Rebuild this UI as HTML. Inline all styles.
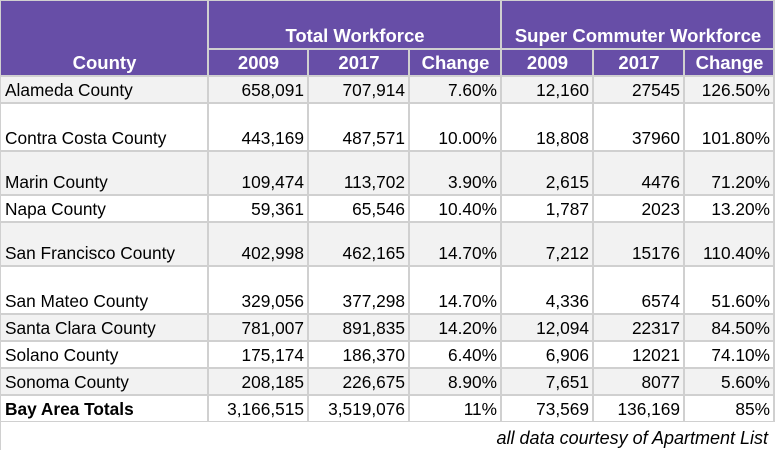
<!DOCTYPE html>
<html><head><meta charset="utf-8">
<style>
html,body{margin:0;padding:0;background:#fff;}
#t{position:relative;width:775px;height:450px;background:#fff;overflow:hidden;font-family:"Liberation Sans",Arial,sans-serif;}
.c{position:absolute;box-sizing:border-box;display:flex;align-items:flex-end;padding:0 3px 1px 4px;font-size:17.3px;color:#000;white-space:nowrap;}
.h{background:#674ea7;color:#fff;font-weight:bold;justify-content:center;font-size:18.5px;padding-bottom:1px;}
.r{justify-content:flex-end;}
.l{justify-content:flex-start;}
</style></head>
<body>
<div id="t"></div>
<script>
const counties=["Alameda County","Contra Costa County","Marin County","Napa County","San Francisco County","San Mateo County","Santa Clara County","Solano County","Sonoma County","Bay Area Totals"];
const total2009=["658,091","443,169","109,474","59,361","402,998","329,056","781,007","175,174","208,185","3,166,515"];
const total2017=["707,914","487,571","113,702","65,546","462,165","377,298","891,835","186,370","226,675","3,519,076"];
const totalChange=["7.60%","10.00%","3.90%","10.40%","14.70%","14.70%","14.20%","6.40%","8.90%","11%"];
const super2009=["12,160","18,808","2,615","1,787","7,212","4,336","12,094","6,906","7,651","73,569"];
const super2017=["27545","37960","4476","2023","15176","6574","22317","12021","8077","136,169"];
const superChange=["126.50%","101.80%","71.20%","13.20%","110.40%","51.60%","84.50%","74.10%","5.60%","85%"];

const cols=[0,208,308,409,501,593,684,775];
const rows=[76,103,151,195,222,266,314,341,368,395,422];
const T=document.getElementById('t');
const G='#d0d0d0';
function bg(x0,y0,x1,y1){
  const d=document.createElement('div');
  d.style.cssText=`position:absolute;left:${x0}px;top:${y0}px;width:${x1-x0}px;height:${y1-y0}px;background:${G}`;
  
  
  T.appendChild(d);
}
bg(0,0,775,422);
function cell(x0,y0,x1,y1,txt,cls,name,fill){
  const d=document.createElement('div');
  d.className='c '+cls;
  d.style.left=(x0+1)+'px';d.style.top=(y0+1)+'px';
  d.style.width=(x1-x0-2)+'px';d.style.height=(y1-y0-2)+'px';
  if(fill)d.style.background=fill;
  d.textContent=txt;
  
  
  T.appendChild(d);
}
cell(0,0,208,76,'County','h','county-header');
cell(208,0,501,49,'Total Workforce','h','total-workforce-header');
cell(501,0,774,49,'Super Commuter Workforce','h','super-commuter-header');
const sub=['2009','2017','Change','2009','2017','Change'];
for(let i=0;i<6;i++){
  const x1=i==5?774:cols[i+2];
  cell(cols[i+1],49,x1,76,sub[i],'h','column-header-'+sub[i].toLowerCase());
}
const series=[total2009,total2017,totalChange,super2009,super2017,superChange];
for(let r=0;r<counties.length;r++){
  const y0=rows[r],y1=rows[r+1];
  const fill=(r%2==0)?'#f2f2f2':'#ffffff';
  const last=r==counties.length-1;
  cell(0,y0,208,y1,counties[r],'l'+(last?' b':''),'county-name',last?'#fff':fill);
  for(let c=0;c<6;c++){
    const x1=c==5?774:cols[c+2];
    cell(cols[c+1],y0,x1,y1,series[c][r],'r','value-cell',last?'#fff':fill);
  }
}
document.querySelectorAll('.b').forEach(e=>e.style.fontWeight='bold');
const f=document.createElement('div');
f.style.cssText='position:absolute;left:0;top:422px;width:768px;height:28px;text-align:right;font-style:italic;font-size:18px;line-height:32px;';
f.textContent='all data courtesy of Apartment List';


T.appendChild(f);
const lb=document.createElement('div');
lb.style.cssText='position:absolute;left:0;top:422px;width:1px;height:28px;background:'+G;


T.appendChild(lb);
</script>
</body></html>
